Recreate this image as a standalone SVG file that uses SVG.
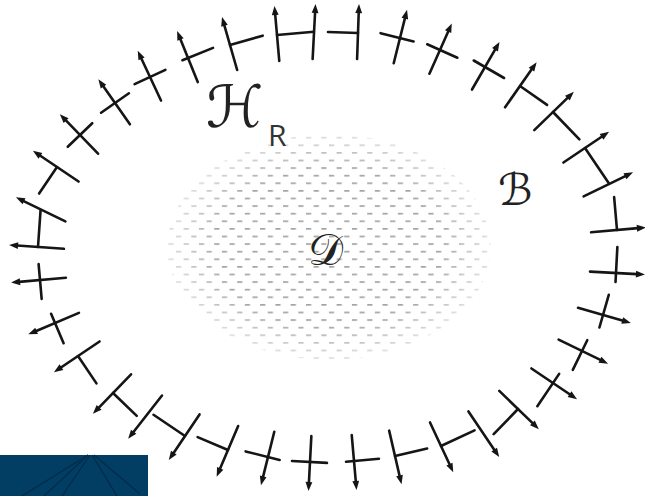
<svg xmlns="http://www.w3.org/2000/svg" xmlns:xlink="http://www.w3.org/1999/xlink" width="645" height="496" viewBox="0 0 645 496">
<style>
.k line{stroke:#151515;stroke-width:2.6;stroke-linecap:round}
.lbl{font-family:"DejaVu Sans","Noto Sans",sans-serif;fill:#222}
.sub{font-family:"Open Sans","Liberation Sans",sans-serif;fill:#333}
</style>
<defs>
<g id="n"><line x1="0" y1="26" x2="0" y2="-21" stroke="#151515" stroke-width="2.6" stroke-linecap="round"/><path d="M0,-29 L-3.4,-20 L3.4,-20 Z" fill="#151515"/></g>
<pattern id="dots" width="15.3" height="15.2" patternUnits="userSpaceOnUse">
<rect x="0" y="0" width="5.2" height="1.7" fill="#a4a4a4"/>
<rect x="7.65" y="7.6" width="5.2" height="1.7" fill="#a4a4a4"/>
</pattern>
<radialGradient id="fade" cx="0.5" cy="0.5" r="0.5">
<stop offset="0.7" stop-color="#fff"/>
<stop offset="1" stop-color="#555"/>
</radialGradient>
<mask id="m" maskUnits="userSpaceOnUse" x="0" y="0" width="645" height="496">
<ellipse cx="329" cy="247" rx="162" ry="113" fill="url(#fade)"/>
</mask>
</defs>
<rect width="645" height="496" fill="#fff"/>
<g id="region-D">
<ellipse cx="329" cy="247" rx="162" ry="113" fill="url(#dots)" mask="url(#m)"/>
</g>
<g id="corner">
<rect x="0" y="455" width="148" height="41" fill="#023d63"/>
<g stroke="#012c4a" stroke-width="1.3">
<line x1="88" y1="455" x2="22" y2="496"/>
<line x1="88" y1="455" x2="44" y2="496"/>
<line x1="90" y1="455" x2="62" y2="496"/>
<line x1="92" y1="455" x2="117" y2="496"/>
<line x1="94" y1="455" x2="140" y2="494"/>
</g>
</g>
<g id="boundary" class="k">
<g id="L0" transform="translate(38,247) rotate(-86)"><use href="#n"/><line x1="0" x2="37"/></g>
<g id="T1" transform="translate(42,210) rotate(-64)"><use href="#n"/></g>
<g id="T2" transform="translate(57,167) rotate(-56)"><use href="#n"/><line x1="-32" x2="0"/></g>
<g id="T3" transform="translate(80,135) rotate(-44)"><use href="#n"/><line x1="-17" x2="17"/></g>
<g id="T4" transform="translate(115,103) rotate(-35)"><use href="#n"/><line x1="-17" x2="17"/></g>
<g id="T5" transform="translate(150,77) rotate(-25)"><use href="#n"/><line x1="-17" x2="17"/></g>
<g id="T6" transform="translate(188,58) rotate(-22)"><use href="#n"/><line x1="-6" x2="27"/></g>
<g id="T7" transform="translate(230,45) rotate(-16)"><use href="#n"/><line x1="0" x2="34"/></g>
<g id="T8" transform="translate(277,35) rotate(-5)"><use href="#n"/><line x1="0" x2="37"/></g>
<g id="T9" transform="translate(314,33) rotate(3)"><use href="#n"/></g>
<g id="T10" transform="translate(358,33) rotate(2)"><use href="#n"/><line x1="-30" x2="0"/></g>
<g id="T11" transform="translate(400,38) rotate(14)"><use href="#n"/><line x1="-20" x2="14"/></g>
<g id="T12" transform="translate(440,50) rotate(24)"><use href="#n"/><line x1="-14" x2="19"/></g>
<g id="T13" transform="translate(485,67) rotate(30)"><use href="#n"/><line x1="-13" x2="22"/></g>
<g id="T14" transform="translate(520,86) rotate(35)"><use href="#n"/><line x1="0" x2="33"/></g>
<g id="T15" transform="translate(553,112) rotate(46)"><use href="#n"/><line x1="0" x2="38"/></g>
<g id="T16" transform="translate(585,148) rotate(56)"><use href="#n"/><line x1="0" x2="42"/></g>
<g id="T17" transform="translate(607,185) rotate(64)"><use href="#n"/></g>
<g id="T18" transform="translate(617,230) rotate(85)"><use href="#n"/><line x1="-33" x2="0"/></g>
<g id="T19" transform="translate(616,273) rotate(93)"><use href="#n"/><line x1="-26" x2="9"/></g>
<g id="T20" transform="translate(603,315) rotate(106)"><use href="#n"/><line x1="-21" x2="13"/></g>
<g id="T21" transform="translate(582,351) rotate(116)"><use href="#n"/><line x1="-12" x2="21"/></g>
<g id="T22" transform="translate(553,383) rotate(124)"><use href="#n"/><line x1="-11" x2="28"/></g>
<g id="T23" transform="translate(518,409) rotate(134)"><use href="#n"/><line x1="0" x2="35"/></g>
<g id="T24" transform="translate(483,433) rotate(146)"><use href="#n"/></g>
<g id="T25" transform="translate(441,446) rotate(155)"><use href="#n"/><line x1="-37" x2="0"/></g>
<g id="T26" transform="translate(395,456) rotate(167)"><use href="#n"/><line x1="-33" x2="0"/></g>
<g id="T27" transform="translate(354,461) rotate(175)"><use href="#n"/><line x1="-25" x2="8"/></g>
<g id="T28" transform="translate(310,462) rotate(183)"><use href="#n"/><line x1="-17" x2="18"/></g>
<g id="T29" transform="translate(268,457) rotate(194)"><use href="#n"/><line x1="-12" x2="23"/></g>
<g id="T30" transform="translate(228,450) rotate(203)"><use href="#n"/><line x1="0" x2="33"/></g>
<g id="T31" transform="translate(185,436) rotate(214)"><use href="#n"/><line x1="0" x2="38"/></g>
<g id="T32" transform="translate(146,416) rotate(218)"><use href="#n"/></g>
<g id="T33" transform="translate(113,393) rotate(224)"><use href="#n"/><line x1="-33" x2="0"/></g>
<g id="T34" transform="translate(78,356) rotate(236)"><use href="#n"/><line x1="-33" x2="0"/></g>
<g id="T35" transform="translate(55,323) rotate(247)"><use href="#n"/><line x1="-22" x2="10"/></g>
<g id="T36" transform="translate(40,280) rotate(265)"><use href="#n"/><line x1="-19" x2="16"/></g>
</g>
<g id="labels">
<text class="lbl" x="206" y="127" font-size="58">ℋ</text>
<text class="sub" x="268" y="146" font-size="30">R</text>
<text class="lbl" x="498" y="205" font-size="44">ℬ</text>
<text class="lbl" x="308" y="265" font-size="44">𝒟</text>
</g>
</svg>
